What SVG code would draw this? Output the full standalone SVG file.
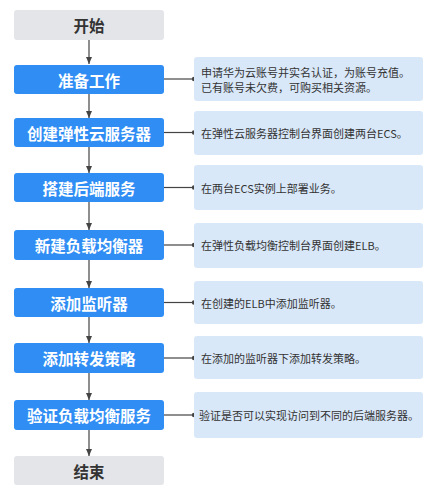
<svg xmlns="http://www.w3.org/2000/svg" width="435" height="495" viewBox="0 0 435 495">
<defs>
<style>
.gray{fill:#e3e5e8}
.blue{fill:#2f8df4}
.desc{fill:#d9e8f9}
.t{font-family:"Noto Sans CJK SC","Liberation Sans",sans-serif;font-weight:bold;font-size:15.5px;text-anchor:middle;dominant-baseline:central}
.tw{fill:#ffffff}
.tg{fill:#333333}
.d{font-family:"Noto Sans CJK SC","Liberation Sans",sans-serif;font-size:11px;fill:#333333;dominant-baseline:central}
.ln{stroke:#444444;stroke-width:1.2;fill:none}
</style>
<marker id="ah" markerWidth="8" markerHeight="8" refX="7" refY="4" orient="auto" markerUnits="userSpaceOnUse">
<path d="M0,1 L7,4 L0,7 Z" fill="#444444"/>
</marker>
</defs>
<rect width="435" height="495" fill="#ffffff"/>
<g id="connectors">
<line class="ln" x1="89" y1="40" x2="89" y2="64" marker-end="url(#ah)"/>
<line class="ln" x1="89" y1="93" x2="89" y2="118" marker-end="url(#ah)"/>
<line class="ln" x1="89" y1="147" x2="89" y2="173" marker-end="url(#ah)"/>
<line class="ln" x1="89" y1="202" x2="89" y2="230" marker-end="url(#ah)"/>
<line class="ln" x1="89" y1="260" x2="89" y2="288" marker-end="url(#ah)"/>
<line class="ln" x1="89" y1="317" x2="89" y2="343" marker-end="url(#ah)"/>
<line class="ln" x1="89" y1="373" x2="89" y2="400" marker-end="url(#ah)"/>
<line class="ln" x1="89" y1="430" x2="89" y2="456" marker-end="url(#ah)"/>
<line class="ln" x1="164" y1="79" x2="194" y2="79"/><circle cx="194" cy="79" r="2.2" fill="#444444"/>
<line class="ln" x1="164" y1="132.5" x2="194" y2="132.5"/><circle cx="194" cy="132.5" r="2.2" fill="#444444"/>
<line class="ln" x1="164" y1="187.5" x2="194" y2="187.5"/><circle cx="194" cy="187.5" r="2.2" fill="#444444"/>
<line class="ln" x1="164" y1="245" x2="194" y2="245"/><circle cx="194" cy="245" r="2.2" fill="#444444"/>
<line class="ln" x1="164" y1="302.5" x2="194" y2="302.5"/><circle cx="194" cy="302.5" r="2.2" fill="#444444"/>
<line class="ln" x1="164" y1="358" x2="194" y2="358"/><circle cx="194" cy="358" r="2.2" fill="#444444"/>
<line class="ln" x1="164" y1="415" x2="194" y2="415"/><circle cx="194" cy="415" r="2.2" fill="#444444"/>
</g>
<g id="start"><rect class="gray" x="14" y="10" width="150" height="30" rx="3"/><text class="t tg" x="89" y="25">开始</text></g>
<g id="step1"><rect class="blue" x="14" y="65" width="150" height="29" rx="3"/><text class="t tw" x="89" y="79.5">准备工作</text></g>
<g id="desc1"><rect class="desc" x="194" y="57" width="229" height="44" rx="3"/><text class="d" x="201" y="72">申请华为云账号并实名认证，为账号充值。</text><text class="d" x="201" y="87">已有账号未欠费，可购买相关资源。</text></g>
<g id="step2"><rect class="blue" x="14" y="118" width="150" height="29" rx="3"/><text class="t tw" x="89" y="132.5">创建弹性云服务器</text></g>
<g id="desc2"><rect class="desc" x="194" y="111" width="229" height="44" rx="3"/><text class="d" x="201" y="132.5">在弹性云服务器控制台界面创建两台ECS。</text></g>
<g id="step3"><rect class="blue" x="14" y="173" width="150" height="29" rx="3"/><text class="t tw" x="89" y="187.5">搭建后端服务</text></g>
<g id="desc3"><rect class="desc" x="194" y="165" width="229" height="45" rx="3"/><text class="d" x="201" y="187.5">在两台ECS实例上部署业务。</text></g>
<g id="step4"><rect class="blue" x="14" y="230" width="150" height="30" rx="3"/><text class="t tw" x="89" y="245">新建负载均衡器</text></g>
<g id="desc4"><rect class="desc" x="194" y="223" width="229" height="45" rx="3"/><text class="d" x="201" y="245">在弹性负载均衡控制台界面创建ELB。</text></g>
<g id="step5"><rect class="blue" x="14" y="288" width="150" height="29" rx="3"/><text class="t tw" x="89" y="302.5">添加监听器</text></g>
<g id="desc5"><rect class="desc" x="194" y="281" width="229" height="43" rx="3"/><text class="d" x="201" y="302.5">在创建的ELB中添加监听器。</text></g>
<g id="step6"><rect class="blue" x="14" y="343" width="150" height="30" rx="3"/><text class="t tw" x="89" y="358">添加转发策略</text></g>
<g id="desc6"><rect class="desc" x="194" y="336" width="229" height="43" rx="3"/><text class="d" x="201" y="358">在添加的监听器下添加转发策略。</text></g>
<g id="step7"><rect class="blue" x="14" y="400" width="150" height="30" rx="3"/><text class="t tw" x="89" y="415">验证负载均衡服务</text></g>
<g id="desc7"><rect class="desc" x="194" y="392" width="229" height="46" rx="3"/><text class="d" x="199" y="415">验证是否可以实现访问到不同的后端服务器。</text></g>
<g id="end"><rect class="gray" x="14" y="456" width="150" height="29" rx="3"/><text class="t tg" x="89" y="470.5">结束</text></g>
</svg>
